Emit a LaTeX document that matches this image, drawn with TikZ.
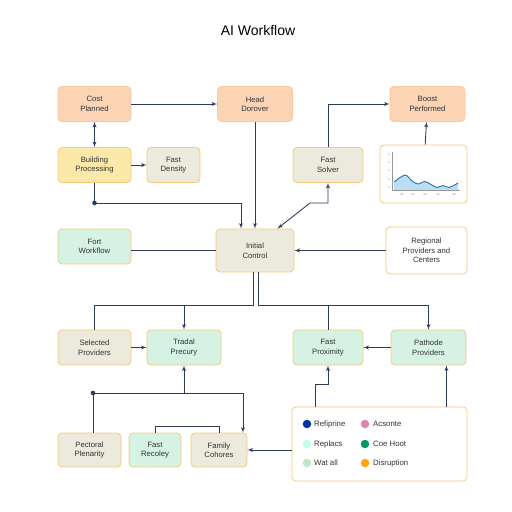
\documentclass[tikz,border=0pt]{standalone}
\usepackage{fontspec}
\setmainfont{Liberation Sans}
\usetikzlibrary{shapes,arrows,calc}

\definecolor{navy}{HTML}{2E3A59}
\definecolor{goldline}{HTML}{F2CB7C}
\definecolor{peach}{HTML}{FBD4B6}
\definecolor{lemon}{HTML}{FCE8A8}
\definecolor{stone}{HTML}{ECEADD}
\definecolor{mint}{HTML}{D6F2E4}
\definecolor{chartblue}{HTML}{2F6DA8}
\definecolor{chartfill}{HTML}{A9D6EE}

\tikzset{
box/.style={draw=goldline, line width=0.8pt, rounded corners=4pt, align=center, inner sep=1pt, minimum height=35pt, font=\fontsize{7.7}{9.5}\selectfont, text=black!80},
orangebox/.style={box, fill=peach, draw=peach!85!orange},
yellowbox/.style={box, fill=lemon},
stonebox/.style={box, fill=stone},
mintbox/.style={box, fill=mint},
whitebox/.style={box, fill=white},
link/.style={draw=navy, line width=0.85pt},
keydot/.style={circle, inner sep=0pt, minimum size=8.5pt},
keytext/.style={anchor=west, inner sep=0pt, font=\fontsize{7.8}{9}\selectfont, text=black!80},
tick/.style={inner sep=0pt, font=\fontsize{2.5}{3}\selectfont, text=black!60}
}

\begin{document}
\begin{tikzpicture}[x=1pt, y=-1pt, >=latex']
\useasboundingbox [fill=white] (0,0) rectangle (512,512);

\node at (258,30) (title) {\fontsize{14}{16}\selectfont AI Workflow};

\node [orangebox, minimum width=73pt] at (94.5,104) (cost) {Cost\\Planned};
\node [orangebox, minimum width=75pt] at (255,104) (head) {Head\\Dorover};
\node [orangebox, minimum width=75pt] at (427.5,104) (boost) {Boost\\Performed};
\node [yellowbox, minimum width=73pt] at (94.5,165) (build) {Building\\Processing};
\node [stonebox, minimum width=53pt] at (173.5,165) (fdens) {Fast\\Density};
\node [stonebox, minimum width=70pt] at (328,165) (fsolv) {Fast\\Solver};
\node [whitebox, minimum width=87pt, minimum height=58pt] at (423.5,174) (chart) {};
\node [mintbox, minimum width=73pt] at (94.5,246.5) (fort) {Fort\\Workflow};
\node [stonebox, minimum width=78pt, minimum height=43pt] at (255,250.5) (ctrl) {Initial\\Control};
\node [whitebox, minimum width=81pt, minimum height=47pt] at (426.5,250.5) (region) {Regional\\Providers and\\Centers};
\node [stonebox, minimum width=73pt] at (94.5,347.5) (selp) {Selected\\Providers};
\node [mintbox, minimum width=74pt] at (184,347.5) (trad) {Tradal\\Precury};
\node [mintbox, minimum width=70pt] at (328,347.5) (fprox) {Fast\\Proximity};
\node [mintbox, minimum width=75pt] at (428.5,347.5) (path) {Pathode\\Providers};
\node [stonebox, minimum width=63pt, minimum height=34pt] at (89.5,450) (pect) {Pectoral\\Plenarity};
\node [mintbox, minimum width=52pt, minimum height=34pt] at (155,450) (frec) {Fast\\Recoley};
\node [stonebox, minimum width=56pt, minimum height=34pt] at (219,450) (famc) {Family\\Cohores};
\node [whitebox, minimum width=175pt, minimum height=74pt] at (379.5,444) (legend) {};

\fill [chartfill, opacity=0.8] (394,190) -- plot [smooth] coordinates {(394,182) (405,175) (412,181) (418,184) (425,181.5) (431,184.5) (437,187.5) (443,185.5) (449,187.5) (458,183)} -- (458,190) -- cycle;
\draw [chartblue, line width=0.9pt] plot [smooth] coordinates {(394,182) (405,175) (412,181) (418,184) (425,181.5) (431,184.5) (437,187.5) (443,185.5) (449,187.5) (458,183)};
\draw [black!40, line width=0.3pt] (392,152) -- (392,190) -- (460,190);
\foreach \y/\t in {155/5, 163/4, 171/3, 180/2, 188/1}
\node [tick] at (389,\y) {\t};
\foreach \x/\t in {402/01, 413/02, 425/03, 438/04, 454/05}
\node [tick] at (\x,195) {\t};

\node [keydot, fill=blue!55!black!80!cyan] at (307,424) (k1) {};
\node [keytext] at (314,424) {Refiprine};
\node [keydot, fill=violet!30!pink] at (365,424) (k2) {};
\node [keytext] at (373,424) {Acsonte};
\node [keydot, fill=green!30!cyan!25] at (307,444) (k3) {};
\node [keytext] at (314,444) {Replacs};
\node [keydot, fill=teal!80!green] at (365,444) (k4) {};
\node [keytext] at (373,444) {Coe Hoot};
\node [keydot, fill=cyan!15!green!25] at (307,463) (k5) {};
\node [keytext] at (314,463) {Wat all};
\node [keydot, fill=orange!70!yellow] at (365,463) (k6) {};
\node [keytext] at (373,463) {Disruption};

\coordinate (d1) at (94.5,203);
\coordinate (d2) at (93,393);
\coordinate (ic1) at ($(ctrl.north)+(-14,0)$);
\coordinate (ic2) at ($(ctrl.north east)+(-17,0)$);
\coordinate (ic3) at ($(ctrl.south)+(-2,0)$);
\coordinate (ic4) at ($(ctrl.south)+(3,0)$);
\coordinate (s1) at (310,203);
\coordinate (l1) at (315,407);
\coordinate (l2) at ($(legend.north east)+(-21,0)$);

\draw [link, ->] (cost) -- (head);
\draw [link, <->] (cost) -- (build);
\draw [link, ->] (build) -- (fdens);
\draw [link] (build) -- (d1);
\fill [navy] (d1) circle (2.3);
\draw [link, ->] (d1) -| (ic1);
\draw [link, ->] (head) -- (ctrl);
\draw [link, ->] (fsolv) |- (boost);
\draw [link, <->] (ic2) -- (s1) -- (s1 -| fsolv) -- (fsolv);
\draw [link, ->] (chart) -- (boost);
\draw [link, ->] (region) -- (ctrl);
\draw [link] (fort.east |- ctrl) -- (ctrl);
\draw [link] (ic3) -- ++(0,33) coordinate (b1) -| (selp);
\draw [link, ->] (b1 -| trad) -- (trad);
\draw [link, ->] (ic4) -- ++(0,33) coordinate (b2) -| (path);
\draw [link] (b2 -| fprox) -- (fprox);
\draw [link, ->] (selp) -- (trad);
\draw [link, ->] (path) -- (fprox);
\fill [navy] (d2) circle (2.3);
\draw [link] (d2) -- (d2 |- pect.north);
\draw [link, ->] (d2) -| ($(famc.north)+(24,0)$);
\draw [link, ->] (d2 -| trad) -- (trad);
\draw [link] (frec) -- ++(0,-24) -| (famc);
\draw [link, ->] (legend.west |- famc) -- (famc);
\draw [link, ->] (l1) -- ++(0,-23) -| (fprox);
\draw [link, ->] (l2) -- (l2 |- path.south);
\end{tikzpicture}
\end{document}
